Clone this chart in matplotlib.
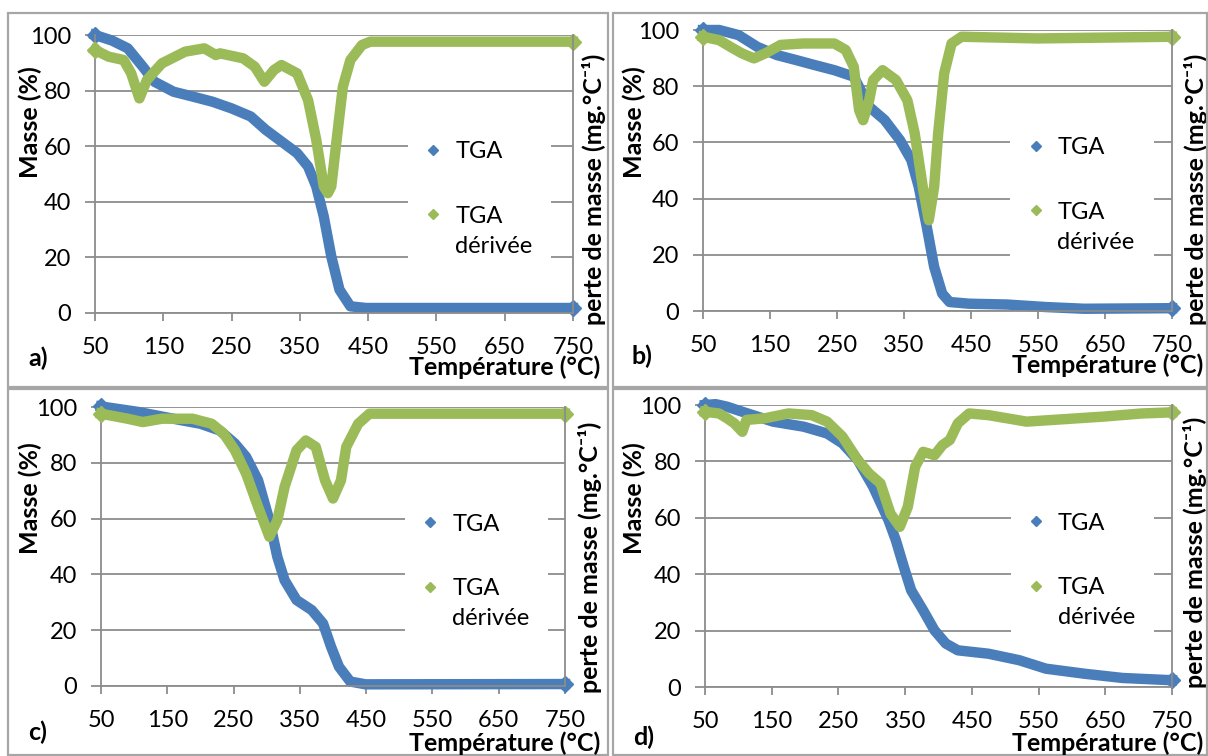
import matplotlib.pyplot as plt
from matplotlib.lines import Line2D
from matplotlib.patches import Rectangle

plt.rcParams['font.family'] = ['Lato', 'DejaVu Sans']

BLUE = '#4a7ebb'
GREEN = '#9bbb59'
GRID = '#8c8c8c'

# panel a
a_tga_T = [50, 75, 98, 120, 137, 165, 194, 222, 250, 278, 300, 323, 346, 362, 374, 385, 396, 408, 424, 447, 500, 600, 750]
a_tga = [100, 98, 95.2, 88.6, 83.2, 79.6, 77.8, 76, 73.6, 70.7, 65.9, 61.7, 57.5, 52.7, 45.5, 34.7, 20.4, 8.4, 2.4, 1.8, 1.8, 1.8, 1.8]
a_dtg_T = [50, 70, 92, 103, 115, 126, 148, 182, 210, 227, 233, 267, 284, 298, 312, 323, 346, 362, 374, 385, 391, 396, 405, 413, 424, 441, 453, 600, 750]
a_dtg = [94.6, 92.2, 91, 86.2, 77.2, 83.8, 89.8, 94, 95.2, 92.8, 93.4, 91.6, 88.6, 83.2, 87.4, 89.2, 86.2, 76.6, 62.3, 45.5, 43.1, 45.5, 64.7, 81.4, 91, 96.4, 97.6, 97.6, 97.6]

# panel b
b_tga_T = [50, 74, 103, 131, 160, 189, 217, 246, 275, 298, 321, 344, 361, 372, 384, 395, 407, 418, 447, 504, 562, 619, 750]
b_tga = [100, 100, 98.2, 94, 91.1, 89.3, 87.5, 85.7, 83.4, 72.7, 68, 60.8, 53.7, 44.2, 29.9, 15.7, 6.2, 3.2, 2.6, 2.3, 1.4, 0.8, 1.0]
b_dtg_T = [50, 74, 91, 108, 126, 143, 166, 200, 223, 246, 263, 275, 283, 289, 298, 304, 318, 338, 355, 366, 378, 387, 395, 401, 410, 421, 436, 550, 750]
b_dtg = [97.6, 96.4, 94, 91.7, 89.9, 91.7, 94.7, 95.2, 95.2, 95.2, 92.9, 86.9, 71.5, 67.9, 75, 82.2, 85.7, 82.2, 75, 63.2, 44.2, 32.3, 44.2, 63.2, 84.6, 95.2, 97.6, 97.0, 97.6]

# panel c
c_tga_T = [50, 107, 159, 200, 229, 252, 269, 287, 304, 316, 327, 345, 368, 385, 397, 409, 426, 449, 750]
c_tga = [100.2, 98.2, 95.8, 94, 91.6, 86.9, 82.1, 73.7, 59.4, 46.3, 37.9, 30.8, 27.2, 22.4, 14.1, 6.9, 1.6, 0.6, 0.7]
c_dtg_T = [50, 90, 113, 142, 188, 217, 235, 252, 269, 287, 304, 316, 327, 345, 359, 374, 388, 400, 412, 420, 438, 455, 750]
c_dtg = [97.6, 95.8, 94.6, 95.8, 95.8, 94, 90.5, 84.5, 76.1, 64.2, 53.5, 59.4, 71.4, 84.5, 88, 85.7, 73.7, 67.2, 73.7, 85.7, 94, 97.6, 97.6]

# panel d
d_tga_T = [50, 66, 83, 106, 152, 198, 233, 256, 279, 302, 325, 336, 348, 359, 377, 394, 411, 429, 475, 521, 561, 619, 676, 750]
d_tga = [100, 100.3, 99.4, 97.6, 94.1, 92.3, 89.9, 86.4, 80.5, 71, 59.2, 52.1, 42.6, 34.3, 27.2, 20.1, 15.4, 13, 11.8, 9.5, 6.5, 4.7, 3.2, 2.4]
d_dtg_T = [50, 71, 83, 94, 106, 112, 140, 175, 210, 233, 256, 279, 296, 313, 328, 342, 354, 365, 377, 394, 406, 417, 429, 446, 475, 532, 590, 648, 705, 750]
d_dtg = [97.6, 97, 95.3, 93.5, 90.5, 94.7, 95.3, 97, 96.4, 94.1, 88.8, 80.5, 75.7, 72.2, 61.5, 56.8, 63.9, 78.1, 83.4, 82.2, 85.8, 87.6, 93.5, 97, 96.4, 94.1, 95, 95.9, 97, 97.4]

x_ticks = [50, 150, 250, 350, 450, 550, 650, 750]
y_ticks = [0, 20, 40, 60, 80, 100]

W, H = 1208, 756
fig = plt.figure(figsize=(W / 100, H / 100), dpi=100)


def fx(px):
    return px / W


def fy(py):
    return 1 - py / H


# layout in pixels: axes box (x0, x1, ytop, ybottom), frame (x0, x1, ytop, ybottom),
# left label (right edge x, centre y), right label (left edge x, centre y),
# tag (x, y), x-title (right x, y)
panels = [
    ('a)', a_tga_T, a_tga, a_dtg_T, a_dtg, (95, 573, 35, 313), (8, 608, 13, 387),
     (42, 122), (582, 189), (38, 358), (600, 367)),
    ('b)', b_tga_T, b_tga, b_dtg_T, b_dtg, (703, 1172, 30, 311), (613, 1207, 13, 387),
     (646, 122), (1184, 189), (642, 356), (1203, 365)),
    ('c)', c_tga_T, c_tga, c_dtg_T, c_dtg, (101, 565, 407, 686), (8, 608, 389, 755),
     (42, 498), (578, 557), (38, 732), (600, 743)),
    ('d)', d_tga_T, d_tga, d_dtg_T, d_dtg, (705, 1172, 405, 687), (613, 1207, 389, 755),
     (646, 498), (1183, 552), (644, 737), (1203, 743)),
]

for tag, tT, tv, dT, dv, box, frame, llab, rlab, tpos, xpos in panels:
    x0, x1, yt, yb = box
    fr = Rectangle((fx(frame[0]), fy(frame[3])), fx(frame[1] - frame[0]), (frame[3] - frame[2]) / H,
                   transform=fig.transFigure, fill=False, edgecolor='#a6a6a6', linewidth=1.6)
    fig.patches.append(fr)

    ax = fig.add_axes([fx(x0), fy(yb), fx(x1 - x0), (yb - yt) / H])
    ax.set_xlim(50, 750)
    ax.set_ylim(0, 100)
    ax.set_xticks(x_ticks)
    ax.set_yticks(y_ticks)
    ax.grid(axis='y', color=GRID, linewidth=1.3)
    ax.set_axisbelow(True)
    for s in ['top', 'right']:
        ax.spines[s].set_visible(False)
    for s in ['left', 'bottom']:
        ax.spines[s].set_color(GRID)
        ax.spines[s].set_linewidth(1.3)
    ax.tick_params(axis='x', length=6, width=1.3, color=GRID, pad=11, labelsize=17)
    ax.tick_params(axis='y', length=7, width=1.3, color=GRID, pad=10, labelsize=17)
    ax.set_ylabel('Masse (%)', fontsize=18, fontweight='bold')
    ax.yaxis.set_label_coords(fx(llab[0]), fy(llab[1]), transform=fig.transFigure)

    ax2 = ax.twinx()
    ax2.set_ylim(0, 100)
    ax2.set_yticks([])
    for s in ['top', 'left', 'bottom']:
        ax2.spines[s].set_visible(False)
    ax2.spines['right'].set_color(GRID)
    ax2.spines['right'].set_linewidth(1.3)
    ax2.set_ylabel('perte de masse (mg.°C⁻¹)', fontsize=18, fontweight='bold')
    ax2.yaxis.set_label_coords(fx(rlab[0]), fy(rlab[1]), transform=fig.transFigure)

    ax.plot(tT, tv, color=BLUE, linewidth=7.5, solid_joinstyle='round', clip_on=False,
            marker='D', markevery=[0, len(tT) - 1], markersize=8)
    ax2.plot(dT, dv, color=GREEN, linewidth=7.5, solid_joinstyle='round', clip_on=False,
             marker='D', markevery=[0, len(dT) - 1], markersize=8)

    handles = [Line2D([], [], linestyle='none', marker='D', markersize=5, color=BLUE),
               Line2D([], [], linestyle='none', marker='D', markersize=5, color=GREEN)]
    leg = ax2.legend(handles, ['TGA', 'TGA\ndérivée'], loc='upper left',
                     bbox_to_anchor=(0.655, 0.685), frameon=True, framealpha=1,
                     edgecolor='none', facecolor='white', fontsize=17, fancybox=False,
                     handlelength=0.55, handletextpad=0.65, labelspacing=1.85,
                     borderpad=0.8, borderaxespad=0)
    for hp in leg._legend_handle_box.get_children()[0].get_children():
        hp.align = 'top'
    leg.get_texts()[1].set_linespacing(1.5)

    fig.text(fx(tpos[0]), fy(tpos[1]), tag, fontsize=18, fontweight='bold', ha='center', va='center')
    fig.text(fx(xpos[0]), fy(xpos[1]), 'Température (°C)', fontsize=18, fontweight='bold',
             ha='right', va='center')

fig.savefig('out.png', dpi=100)
